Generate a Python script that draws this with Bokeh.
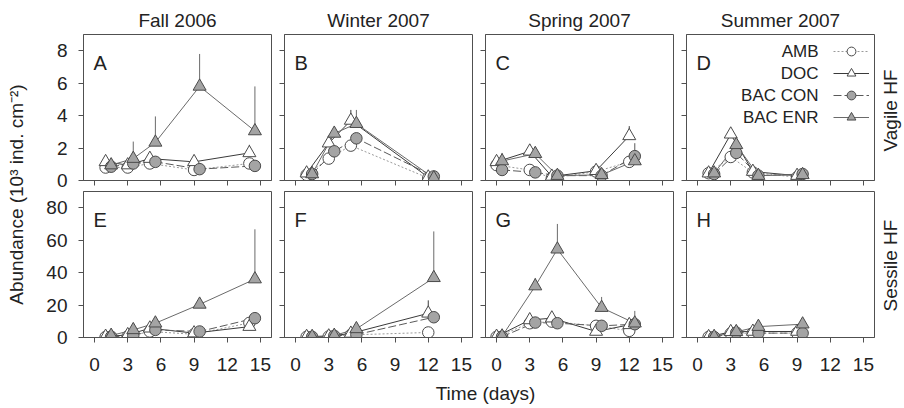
import math
from bokeh.plotting import figure
from bokeh.models import Label, Legend, LegendItem, FixedTicker, CustomLabelingPolicy
from bokeh.layouts import row, column
from bokeh.embed import file_html
from bokeh.resources import INLINE
from bokeh.core.properties import value

FONT = "Liberation Sans"

# ---------------- data ----------------
seasons = ["Fall 2006", "Winter 2007", "Spring 2007", "Summer 2007"]
treatments = ["AMB", "DOC", "BAC CON", "BAC ENR"]
panel_letters = ["A", "B", "C", "D", "E", "F", "G", "H"]
row_names = ["Vagile HF", "Sessile HF"]
x_ticks = [0, 3, 6, 9, 12, 15]
y_ticks_vagile = [0, 2, 4, 6, 8]
y_ticks_sessile = [0, 20, 40, 60, 80]

# sampling days (controls / bacteria treatments offset)
fall_days_ctrl = [1, 3, 5, 9, 14]
fall_days_bac = [1.5, 3.5, 5.5, 9.5, 14.5]
winter_days_ctrl = [1, 3, 5, 12]
winter_days_bac = [1.5, 3.5, 5.5, 12.5]
spring_days_ctrl = [0, 3, 5, 9, 12]
spring_days_bac = [0.5, 3.5, 5.5, 9.5, 12.5]
summer_days_ctrl = [1, 3, 5, 9]
summer_days_bac = [1.5, 3.5, 5.5, 9.5]

# Panel A (vagile, fall)
a_amb = [0.8, 0.8, 1.05, 0.65, 1.05]
a_doc = [1.15, 0.95, 1.35, 1.15, 1.7]
a_con = [0.85, 1.05, 1.15, 0.7, 0.9]
a_enr = [0.95, 1.35, 2.35, 5.8, 3.05]
a_amb_se = [0.1, 0.1, 0.1, 0.1, 0.15]
a_doc_se = [0.15, 0.2, 0.15, 0.2, 0.5]
a_con_se = [0.1, 0.1, 0.1, 0.1, 0.1]
a_enr_se = [0.2, 1.05, 1.6, 2.0, 2.75]

# Panel B (vagile, winter)
b_amb = [0.35, 1.35, 2.15, 0.15]
b_doc = [0.45, 2.3, 3.7, 0.2]
b_con = [0.4, 1.8, 2.6, 0.25]
b_enr = [0.4, 2.9, 3.5, 0.15]
b_amb_se = [0.1, 0.2, 0.2, 0.05]
b_doc_se = [0.3, 0.4, 0.65, 0.1]
b_con_se = [0.2, 0.3, 0.3, 0.1]
b_enr_se = [0.5, 0.3, 0.85, 0.1]

# Panel C (vagile, spring)
c_amb = [0.95, 0.65, 0.15, 0.55, 1.15]
c_doc = [1.15, 1.8, 0.25, 0.6, 2.75]
c_con = [0.65, 0.5, 0.3, 0.3, 1.5]
c_enr = [1.2, 1.65, 0.3, 0.35, 1.2]
c_amb_se = [0.1, 0.1, 0.05, 0.1, 0.1]
c_doc_se = [0.35, 0.45, 0.05, 0.15, 0.6]
c_con_se = [0.2, 0.1, 0.05, 0.1, 0.8]
c_enr_se = [0.5, 0.4, 0.05, 0.2, 0.4]

# Panel D (vagile, summer)
d_amb = [0.45, 1.45, 0.5, 0.2]
d_doc = [0.45, 2.85, 0.55, 0.3]
d_con = [0.4, 1.7, 0.3, 0.4]
d_enr = [0.45, 2.2, 0.3, 0.35]
d_amb_se = [0.05, 0.1, 0.05, 0.05]
d_doc_se = [0.1, 0.2, 0.1, 0.05]
d_con_se = [0.05, 0.2, 0.05, 0.1]
d_enr_se = [0.1, 0.3, 0.1, 0.1]

# Panel E (sessile, fall)
e_amb = [0.3, 0.6, 3.7, 2.0, 9.0]
e_doc = [0.6, 1.6, 5.7, 2.7, 6.7]
e_con = [0.5, 1.2, 4.7, 3.7, 11.9]
e_enr = [1.2, 4.7, 8.8, 20.4, 36.0]
e_amb_se = [0.1, 0.2, 0.5, 0.3, 1.0]
e_doc_se = [0.2, 0.3, 0.8, 0.5, 1.0]
e_con_se = [0.2, 0.3, 0.6, 0.5, 1.5]
e_enr_se = [0.5, 1.5, 2.0, 2.5, 30.7]

# Panel F (sessile, winter)
f_amb = [0.4, 0.6, 1.6, 3.1]
f_doc = [0.5, 0.8, 2.5, 14.9]
f_con = [0.4, 1.0, 1.8, 12.5]
f_enr = [0.5, 1.2, 5.3, 36.8]
f_amb_se = [0.1, 0.1, 0.3, 0.5]
f_doc_se = [0.1, 0.2, 0.5, 8.0]
f_con_se = [0.1, 0.2, 0.4, 2.0]
f_enr_se = [0.2, 0.4, 1.5, 28.6]

# Panel G (sessile, spring)
g_amb = [0.4, 8.8, 9.8, 7.2, 4.1]
g_doc = [0.6, 10.8, 11.9, 3.7, 7.8]
g_con = [0.5, 9.2, 8.8, 7.2, 8.2]
g_enr = [0.8, 31.7, 54.4, 18.4, 8.8]
g_amb_se = [0.1, 1.0, 1.0, 1.0, 1.0]
g_doc_se = [0.2, 1.5, 1.5, 1.0, 1.5]
g_con_se = [0.1, 1.0, 1.0, 3.6, 1.0]
g_enr_se = [0.3, 5.0, 15.6, 6.6, 7.6]

# Panel H (sessile, summer)
h_amb = [0.3, 2.5, 2.7, 2.7]
h_doc = [0.4, 3.5, 3.7, 3.7]
h_con = [0.3, 3.0, 2.7, 2.7]
h_enr = [0.5, 3.5, 6.7, 8.2]
h_amb_se = [0.1, 0.3, 0.3, 0.3]
h_doc_se = [0.1, 0.4, 0.4, 0.4]
h_con_se = [0.1, 0.3, 0.3, 0.3]
h_enr_se = [0.2, 0.5, 0.8, 1.0]

season_days = [
    (fall_days_ctrl, fall_days_bac),
    (winter_days_ctrl, winter_days_bac),
    (spring_days_ctrl, spring_days_bac),
    (summer_days_ctrl, summer_days_bac),
]
panel_means = [
    [[a_amb, a_doc, a_con, a_enr], [b_amb, b_doc, b_con, b_enr],
     [c_amb, c_doc, c_con, c_enr], [d_amb, d_doc, d_con, d_enr]],
    [[e_amb, e_doc, e_con, e_enr], [f_amb, f_doc, f_con, f_enr],
     [g_amb, g_doc, g_con, g_enr], [h_amb, h_doc, h_con, h_enr]],
]
panel_errs = [
    [[a_amb_se, a_doc_se, a_con_se, a_enr_se], [b_amb_se, b_doc_se, b_con_se, b_enr_se],
     [c_amb_se, c_doc_se, c_con_se, c_enr_se], [d_amb_se, d_doc_se, d_con_se, d_enr_se]],
    [[e_amb_se, e_doc_se, e_con_se, e_enr_se], [f_amb_se, f_doc_se, f_con_se, f_enr_se],
     [g_amb_se, g_doc_se, g_con_se, g_enr_se], [h_amb_se, h_doc_se, h_con_se, h_enr_se]],
]

# ---------------- styles ----------------
STY = {
    "AMB":     dict(marker="circle",   fill="#ffffff", line="#9a9a9a", dash="2 2", size=11.5),
    "DOC":     dict(marker="triangle", fill="#ffffff", line="#3a3a3a", dash="solid", size=13),
    "BAC CON": dict(marker="circle",   fill="#a4a4a4", line="#5a5a5a", dash="8 3", size=11.5),
    "BAC ENR": dict(marker="triangle", fill="#a4a4a4", line="#6a6a6a", dash="solid", size=13),
}
MARKER_LINE = "#4a4a4a"
AX = "#505050"
TXT = "#222222"
TICK_FS = "19px"

FW, FH = 188, 146
TOP_T, TOP_B = 34, 11
BOT_T, BOT_B = 0, 43
XLAB_H = 26

HIDE_CODE = """
try {
  for (const i of Array.from(indices)) {
    if (typeof indices.unset === "function") indices.unset(i);
    else indices.set(i, false);
  }
} catch (e) {}
return indices
"""


def style_axis(ax, show_labels, standoff):
    ax.major_tick_in = 0
    ax.major_tick_out = 5
    ax.minor_tick_in = 0
    ax.minor_tick_out = 0
    ax.axis_line_color = AX
    ax.major_tick_line_color = AX
    ax.major_label_text_font = FONT
    ax.major_label_text_color = TXT
    if show_labels:
        ax.major_label_text_font_size = TICK_FS
        ax.major_label_standoff = standoff
    else:
        ax.major_label_text_font_size = "0px"
        ax.major_label_standoff = 0
        ax.major_label_policy = CustomLabelingPolicy(code=HIDE_CODE)


def make_panel(r, c):
    top = r == 0
    first = c == 0
    last = c == 3
    p = figure(
        frame_width=FW, frame_height=FH,
        x_range=(-1, 16), y_range=(0, 9) if top else (0, 90),
        output_backend="svg", toolbar_location=None,
        min_border_left=53 if first else 7,
        min_border_right=6,
        min_border_top=TOP_T if top else BOT_T,
        min_border_bottom=TOP_B if top else BOT_B,
        title=seasons[c] if top else None,
    )
    if top:
        p.title.align = "center"
        p.title.text_font = FONT
        p.title.text_font_size = "19px"
        p.title.text_font_style = "normal"
        p.title.text_color = TXT
        p.title.standoff = 8
    p.xgrid.visible = False
    p.ygrid.visible = False
    p.outline_line_color = AX
    p.background_fill_color = "white"
    p.border_fill_color = "white"
    p.xaxis.ticker = FixedTicker(ticks=x_ticks)
    p.yaxis.ticker = FixedTicker(ticks=y_ticks_vagile if top else y_ticks_sessile)
    style_axis(p.xaxis[0], not top, 15)
    style_axis(p.yaxis[0], first, 11)

    days_ctrl, days_bac = season_days[c]
    means = panel_means[r][c]
    errs = panel_errs[r][c]
    line_rs, mark_rs = [], []
    for i, t in enumerate(treatments):
        s = STY[t]
        xs = days_ctrl if i < 2 else days_bac
        ys = means[i]
        up = [y + e for y, e in zip(ys, errs[i])]
        p.segment(x0=xs, y0=ys, x1=xs, y1=up, line_color=s["line"], line_width=1)
        lr = p.line(xs, ys, line_color=s["line"], line_width=1, line_dash=s["dash"])
        line_rs.append(lr)
    for i, t in enumerate(treatments):
        s = STY[t]
        xs = days_ctrl if i < 2 else days_bac
        mr = p.scatter(xs, means[i], marker=s["marker"], size=s["size"],
                       fill_color=s["fill"], line_color=MARKER_LINE, line_width=1)
        mark_rs.append(mr)

    letter = panel_letters[r * 4 + c]
    p.add_layout(Label(x=10, y=FH - 28, x_units="screen", y_units="screen", text=letter,
                       text_font=FONT, text_font_size="20px", text_color=TXT,
                       text_baseline="alphabetic", text_align="left"))
    if top and last:
        gw, gh = 36, 22
        lx, ly = 147, 52
        lh = 4 * gh
        items = [LegendItem(label=value(""), renderers=[line_rs[i], mark_rs[i]])
                 for i in range(4)]
        leg = Legend(items=items, location=(lx, ly), glyph_width=gw, glyph_height=gh,
                     label_width=0, label_height=gh, label_standoff=0, padding=0,
                     spacing=0, margin=0, border_line_color=None,
                     background_fill_alpha=0, label_text_font_size="1px")
        p.add_layout(leg)
        for i, t in enumerate(treatments):
            p.add_layout(Label(x=lx - 15, y=ly + lh - gh / 2 - i * gh,
                               x_units="screen", y_units="screen", text=t,
                               text_font=FONT, text_font_size="17px", text_color=TXT,
                               text_align="right", text_baseline="middle"))
    return p


def text_fig(w, h):
    f = figure(width=w, height=h, x_range=(0, 1), y_range=(0, 1),
               x_axis_location=None, y_axis_location=None,
               output_backend="svg", toolbar_location=None, min_border=0)
    f.outline_line_color = None
    f.xgrid.visible = False
    f.ygrid.visible = False
    return f


panels = [[make_panel(r, c) for c in range(4)] for r in range(2)]

TOTAL_H = TOP_T + FH + TOP_B + BOT_T + FH + BOT_B + XLAB_H
ylab = text_fig(30, TOTAL_H)
ylab.add_layout(Label(x=16, y=TOTAL_H - 194, x_units="screen", y_units="screen",
                      text="Abundance (10³ ind. cm⁻²)", angle=math.pi / 2,
                      text_font=FONT, text_font_size="19px", text_color=TXT,
                      text_align="center", text_baseline="middle"))

xlab = text_fig(850, XLAB_H)
xlab.add_layout(Label(x=455, y=XLAB_H / 2, x_units="screen", y_units="screen",
                      text="Time (days)", text_font=FONT, text_font_size="19px",
                      text_color=TXT, text_align="center", text_baseline="middle"))

rlab = text_fig(22, TOTAL_H)
rlab.add_layout(Label(x=10, y=TOTAL_H - 110, x_units="screen", y_units="screen",
                      text=row_names[0], angle=math.pi / 2,
                      text_font=FONT, text_font_size="19px", text_color=TXT,
                      text_align="center", text_baseline="middle"))
rlab.add_layout(Label(x=10, y=TOTAL_H - 265, x_units="screen", y_units="screen",
                      text=row_names[1], angle=math.pi / 2,
                      text_font=FONT, text_font_size="19px", text_color=TXT,
                      text_align="center", text_baseline="middle"))

layout = row(ylab, column(row(*panels[0]), row(*panels[1]), xlab), rlab)

open("out.html", "w").write(file_html(layout, INLINE))
